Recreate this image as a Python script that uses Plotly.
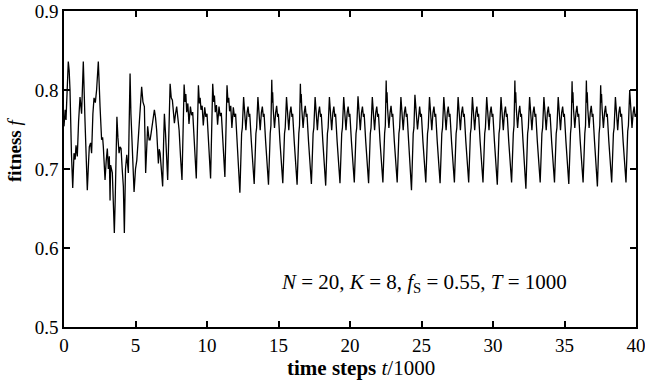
import plotly.graph_objects as go

# ---- data (t in units of 1000 steps, fitness f) ----
t_early = [0.00, 0.08, 0.14, 0.22, 0.30, 0.36, 0.42, 0.52, 0.61, 0.70, 0.78, 0.84, 0.93,
           1.02, 1.12, 1.23, 1.35, 1.47, 1.55, 1.63, 1.72, 1.77, 1.86, 1.93,
           2.02, 2.10, 2.19, 2.28, 2.40, 2.46, 2.52, 2.63, 2.70, 2.75, 2.87, 2.95,
           3.03, 3.10, 3.17, 3.22, 3.26, 3.38, 3.45, 3.52, 3.58, 3.64, 3.70, 3.77, 3.85, 3.92, 3.99,
           4.07, 4.15, 4.22, 4.30, 4.39, 4.50, 4.56, 4.62, 4.68, 4.74, 4.82, 4.90,
           5.00, 5.09, 5.20, 5.30, 5.43, 5.52, 5.62, 5.71, 5.78, 5.85, 5.95,
           6.02, 6.09, 6.20, 6.32, 6.40, 6.48, 6.60, 6.66, 6.72, 6.80, 6.90, 6.96,
           7.02, 7.10, 7.18, 7.25, 7.42, 7.50, 7.58, 7.65, 7.72, 7.80, 7.88, 7.96,
           8.05, 8.15]
f_early = [0.754, 0.775, 0.762, 0.800, 0.836, 0.825, 0.800, 0.720, 0.676, 0.720, 0.712, 0.730, 0.716,
           0.760, 0.791, 0.770, 0.836, 0.760, 0.700, 0.673, 0.710, 0.728, 0.733, 0.720,
           0.770, 0.790, 0.784, 0.800, 0.836, 0.800, 0.779, 0.737, 0.740, 0.728, 0.686, 0.710,
           0.726, 0.700, 0.716, 0.660, 0.705, 0.695, 0.665, 0.619, 0.660, 0.720, 0.766, 0.740, 0.720, 0.728, 0.726,
           0.700, 0.678, 0.619, 0.700, 0.718, 0.695, 0.760, 0.821, 0.770, 0.737, 0.700, 0.671,
           0.700, 0.711, 0.740, 0.775, 0.804, 0.785, 0.779, 0.695, 0.730, 0.754, 0.737,
           0.737, 0.745, 0.760, 0.775, 0.765, 0.749, 0.707, 0.725, 0.720, 0.700, 0.678, 0.730,
           0.770, 0.745, 0.720, 0.686, 0.808, 0.790, 0.787, 0.775, 0.758, 0.770, 0.779, 0.765,
           0.749, 0.715]

t_mid1 = [8.25, 8.40, 8.47, 8.52, 8.58, 8.66, 8.74, 8.84, 8.92, 9.00, 9.10,
          9.25, 9.40, 9.47, 9.52, 9.58, 9.66, 9.74, 9.84, 9.92, 10.00, 10.10,
          10.25, 10.40, 10.47, 10.52, 10.58, 10.66, 10.74, 10.84, 10.92, 11.00, 11.10,
          11.25, 11.40, 11.47, 11.52, 11.58, 11.66, 11.74, 11.84, 11.92, 12.00, 12.10,
          12.30, 12.42, 12.47, 12.56, 12.63, 12.72, 12.80, 12.87, 12.94, 12.99, 13.10,
          13.30, 13.42, 13.47, 13.56, 13.63, 13.72, 13.80, 13.87, 13.94, 13.99, 14.10,
          14.30, 14.42, 14.47, 14.53, 14.56, 14.59, 14.63, 14.72, 14.80, 14.87, 14.94, 14.99, 15.10,
          15.30, 15.42, 15.47, 15.56, 15.63, 15.72, 15.80, 15.87, 15.94, 15.99, 16.10,
          16.30, 16.42, 16.47, 16.53, 16.56, 16.59, 16.63, 16.72, 16.80, 16.87, 16.94, 16.99, 17.10,
          17.30, 17.42, 17.47, 17.56, 17.63, 17.72, 17.80, 17.87, 17.94, 17.99, 18.10,
          18.30, 18.42, 18.47, 18.56, 18.63, 18.72, 18.80, 18.87, 18.94, 18.99, 19.10]
f_mid1 = [0.686, 0.807, 0.785, 0.795, 0.772, 0.783, 0.757, 0.779, 0.768, 0.772, 0.735,
          0.688, 0.806, 0.783, 0.790, 0.775, 0.780, 0.755, 0.778, 0.766, 0.770, 0.735,
          0.688, 0.808, 0.785, 0.793, 0.772, 0.781, 0.756, 0.779, 0.767, 0.771, 0.735,
          0.690, 0.806, 0.784, 0.790, 0.773, 0.780, 0.752, 0.778, 0.766, 0.770, 0.730,
          0.670, 0.745, 0.752, 0.791, 0.772, 0.749, 0.771, 0.779, 0.766, 0.770, 0.735,
          0.681, 0.745, 0.752, 0.791, 0.772, 0.749, 0.771, 0.779, 0.766, 0.770, 0.735,
          0.680, 0.745, 0.755, 0.813, 0.784, 0.797, 0.776, 0.752, 0.771, 0.780, 0.766, 0.770, 0.735,
          0.682, 0.745, 0.752, 0.791, 0.772, 0.749, 0.771, 0.779, 0.766, 0.770, 0.735,
          0.680, 0.745, 0.755, 0.808, 0.784, 0.795, 0.776, 0.752, 0.771, 0.780, 0.766, 0.770, 0.735,
          0.681, 0.745, 0.752, 0.791, 0.772, 0.749, 0.771, 0.779, 0.766, 0.770, 0.735,
          0.679, 0.745, 0.752, 0.791, 0.772, 0.749, 0.771, 0.779, 0.766, 0.770, 0.735]

t_mid2 = [19.30, 19.42, 19.47, 19.56, 19.63, 19.72, 19.80, 19.87, 19.94, 19.99, 20.10,
          20.30, 20.42, 20.47, 20.56, 20.63, 20.72, 20.80, 20.87, 20.94, 20.99, 21.10,
          21.30, 21.42, 21.47, 21.56, 21.63, 21.72, 21.80, 21.87, 21.94, 21.99, 22.10,
          22.30, 22.42, 22.47, 22.53, 22.56, 22.59, 22.63, 22.72, 22.80, 22.87, 22.94, 22.99, 23.10,
          23.30, 23.42, 23.47, 23.56, 23.63, 23.72, 23.80, 23.87, 23.94, 23.99, 24.10,
          24.30, 24.42, 24.47, 24.54, 24.57, 24.60, 24.63, 24.72, 24.80, 24.87, 24.94, 24.99, 25.10,
          25.30, 25.42, 25.47, 25.56, 25.63, 25.72, 25.80, 25.87, 25.94, 25.99, 26.10,
          26.30, 26.42, 26.47, 26.56, 26.63, 26.72, 26.80, 26.87, 26.94, 26.99, 27.10,
          27.30, 27.42, 27.47, 27.56, 27.63, 27.72, 27.80, 27.87, 27.94, 27.99, 28.10,
          28.30, 28.42, 28.47, 28.56, 28.63, 28.72, 28.80, 28.87, 28.94, 28.99, 29.10,
          29.30, 29.42, 29.47, 29.56, 29.63, 29.72, 29.80, 29.87, 29.94, 29.99, 30.10]
f_mid2 = [0.682, 0.745, 0.752, 0.791, 0.772, 0.749, 0.771, 0.779, 0.766, 0.770, 0.735,
          0.683, 0.745, 0.752, 0.792, 0.772, 0.749, 0.771, 0.779, 0.766, 0.770, 0.735,
          0.682, 0.745, 0.752, 0.791, 0.772, 0.749, 0.771, 0.779, 0.766, 0.770, 0.735,
          0.683, 0.745, 0.755, 0.812, 0.784, 0.797, 0.776, 0.752, 0.771, 0.780, 0.766, 0.770, 0.735,
          0.683, 0.745, 0.752, 0.791, 0.772, 0.749, 0.771, 0.779, 0.766, 0.770, 0.735,
          0.673, 0.745, 0.752, 0.794, 0.780, 0.790, 0.772, 0.750, 0.771, 0.779, 0.766, 0.770, 0.735,
          0.683, 0.745, 0.752, 0.791, 0.772, 0.749, 0.771, 0.779, 0.766, 0.770, 0.735,
          0.682, 0.745, 0.752, 0.791, 0.772, 0.749, 0.771, 0.779, 0.766, 0.770, 0.735,
          0.683, 0.745, 0.752, 0.791, 0.772, 0.749, 0.771, 0.779, 0.766, 0.770, 0.735,
          0.683, 0.745, 0.752, 0.791, 0.772, 0.749, 0.771, 0.779, 0.766, 0.770, 0.735,
          0.683, 0.745, 0.752, 0.791, 0.772, 0.749, 0.771, 0.779, 0.766, 0.770, 0.735]

t_late = [30.30, 30.42, 30.47, 30.56, 30.63, 30.72, 30.80, 30.87, 30.94, 30.99, 31.10,
          31.30, 31.42, 31.47, 31.53, 31.56, 31.59, 31.63, 31.72, 31.80, 31.87, 31.94, 31.99, 32.10,
          32.30, 32.42, 32.47, 32.56, 32.63, 32.72, 32.80, 32.87, 32.94, 32.99, 33.10,
          33.30, 33.42, 33.47, 33.56, 33.63, 33.72, 33.80, 33.87, 33.94, 33.99, 34.10,
          34.30, 34.42, 34.47, 34.56, 34.63, 34.72, 34.80, 34.87, 34.94, 34.99, 35.10,
          35.30, 35.42, 35.47, 35.53, 35.56, 35.59, 35.63, 35.72, 35.80, 35.87, 35.94, 35.99, 36.10,
          36.30, 36.42, 36.47, 36.53, 36.56, 36.59, 36.63, 36.72, 36.80, 36.87, 36.94, 36.99, 37.10,
          37.30, 37.42, 37.47, 37.53, 37.56, 37.59, 37.63, 37.72, 37.80, 37.87, 37.94, 37.99, 38.10,
          38.30, 38.42, 38.47, 38.56, 38.63, 38.72, 38.80, 38.87, 38.94, 38.99, 39.10,
          39.30, 39.42, 39.47, 39.56, 39.63, 39.72, 39.80, 39.87, 39.94, 40.00]
f_late = [0.680, 0.745, 0.752, 0.791, 0.772, 0.749, 0.771, 0.779, 0.766, 0.770, 0.735,
          0.683, 0.745, 0.755, 0.812, 0.784, 0.797, 0.776, 0.752, 0.771, 0.780, 0.766, 0.770, 0.735,
          0.675, 0.745, 0.752, 0.791, 0.772, 0.749, 0.771, 0.779, 0.766, 0.770, 0.735,
          0.683, 0.745, 0.752, 0.791, 0.772, 0.749, 0.771, 0.779, 0.766, 0.770, 0.735,
          0.683, 0.745, 0.752, 0.791, 0.772, 0.749, 0.771, 0.779, 0.766, 0.770, 0.735,
          0.681, 0.745, 0.755, 0.811, 0.784, 0.797, 0.776, 0.752, 0.771, 0.780, 0.766, 0.770, 0.735,
          0.683, 0.745, 0.755, 0.812, 0.784, 0.797, 0.776, 0.752, 0.771, 0.780, 0.766, 0.770, 0.735,
          0.678, 0.745, 0.755, 0.806, 0.784, 0.795, 0.776, 0.752, 0.771, 0.780, 0.766, 0.770, 0.735,
          0.683, 0.745, 0.752, 0.791, 0.772, 0.749, 0.771, 0.779, 0.766, 0.770, 0.735,
          0.683, 0.748, 0.755, 0.800, 0.778, 0.752, 0.771, 0.779, 0.766, 0.770]

x_ticks = [0, 5, 10, 15, 20, 25, 30, 35, 40]
x_ticktext = ["0", "5", "10", "15", "20", "25", "30", "35", "40"]
y_ticks = [0.5, 0.6, 0.7, 0.8, 0.9]
y_ticktext = ["0.5", "0.6", "0.7", "0.8", "0.9"]

t = t_early + t_mid1 + t_mid2 + t_late
f = f_early + f_mid1 + f_mid2 + f_late

FONT = "Liberation Serif"

fig = go.Figure(go.Scatter(x=t, y=f, mode="lines",
                           line=dict(color="black", width=1.3),
                           hoverinfo="skip"))

axis_common = dict(showline=True, linecolor="black", linewidth=1.5, mirror="ticks",
                   ticks="inside", ticklen=6, tickwidth=1.5, tickcolor="black",
                   showgrid=False, zeroline=False, automargin=False,
                   ticklabeloverflow="allow",
                   tickfont=dict(family=FONT, size=19, color="black"))

fig.update_xaxes(range=[0, 40], tickvals=x_ticks, ticktext=x_ticktext, **axis_common)
fig.update_yaxes(range=[0.5, 0.9], tickvals=y_ticks, ticktext=y_ticktext, **axis_common)

fig.update_layout(
    width=645, height=384,
    margin=dict(l=64, r=9, t=11, b=57, autoexpand=False),
    plot_bgcolor="white", paper_bgcolor="white",
    showlegend=False,
    font=dict(family=FONT, size=19, color="black"),
    annotations=[
        dict(text="<b>time steps</b> <i>t</i>/1000", xref="paper", yref="paper",
             x=0.52, y=-0.13, xanchor="center", yanchor="middle", showarrow=False,
             font=dict(family=FONT, size=21, color="black")),
        dict(text="<b>fitness</b> <i>f</i>", xref="paper", yref="paper",
             x=-0.0874, y=0.56, xanchor="center", yanchor="middle", showarrow=False,
             textangle=-90, font=dict(family=FONT, size=19, color="black")),
        dict(text="<i>N</i> = 20, <i>K</i> = 8, <i>f</i><sub>S</sub> = 0.55, <i>T</i> = 1000",
             xref="paper", yref="paper", x=0.629, y=0.139, xanchor="center", yanchor="middle",
             showarrow=False, font=dict(family=FONT, size=21, color="black")),
    ],
)

fig.write_html("out.html", config={"displayModeBar": False},
               post_script="document.body.style.margin='0px';document.body.style.overflow='hidden';")
